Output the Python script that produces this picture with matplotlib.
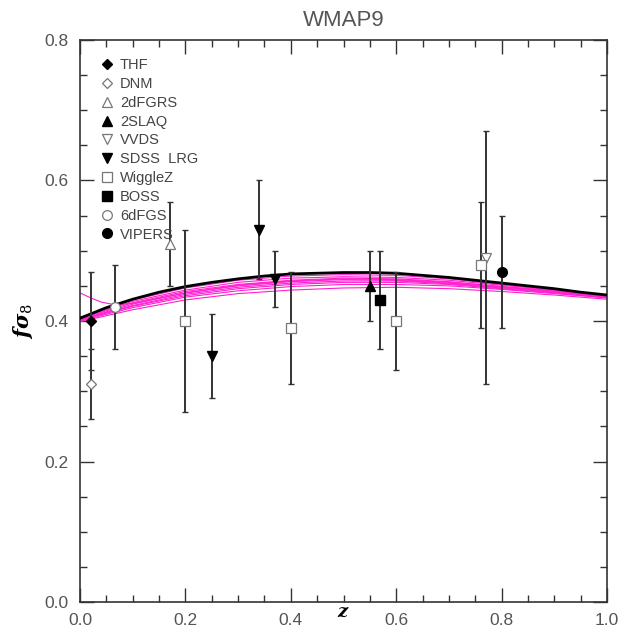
import matplotlib.pyplot as plt
from matplotlib.ticker import MultipleLocator

# growth-rate compilation, fsigma8(z)
surveys = ['THF', 'DNM', '2dFGRS', '2SLAQ', 'VVDS', 'SDSS LRG', 'WiggleZ', 'BOSS', '6dFGS', 'VIPERS']
labels = ['THF', 'DNM', '2dFGRS', '2SLAQ', 'VVDS', 'SDSS  LRG', 'WiggleZ', 'BOSS', '6dFGS', 'VIPERS']
z_data = {
    'THF': [0.02], 'DNM': [0.02], '2dFGRS': [0.17], '2SLAQ': [0.55], 'VVDS': [0.77],
    'SDSS LRG': [0.25, 0.34, 0.37], 'WiggleZ': [0.20, 0.40, 0.60, 0.76],
    'BOSS': [0.57], '6dFGS': [0.067], 'VIPERS': [0.80],
}
fs8_data = {
    'THF': [0.40], 'DNM': [0.31], '2dFGRS': [0.51], '2SLAQ': [0.45], 'VVDS': [0.49],
    'SDSS LRG': [0.35, 0.53, 0.46], 'WiggleZ': [0.40, 0.39, 0.40, 0.48],
    'BOSS': [0.43], '6dFGS': [0.42], 'VIPERS': [0.47],
}
err_data = {
    'THF': [0.07], 'DNM': [0.05], '2dFGRS': [0.06], '2SLAQ': [0.05], 'VVDS': [0.18],
    'SDSS LRG': [0.06, 0.07, 0.04], 'WiggleZ': [0.13, 0.08, 0.07, 0.09],
    'BOSS': [0.07], '6dFGS': [0.06], 'VIPERS': [0.08],
}
# marker, filled?
styles = {
    'THF': ('D', True), 'DNM': ('D', False), '2dFGRS': ('^', False), '2SLAQ': ('^', True),
    'VVDS': ('v', False), 'SDSS LRG': ('v', True), 'WiggleZ': ('s', False),
    'BOSS': ('s', True), '6dFGS': ('o', False), 'VIPERS': ('o', True),
}
sizes = {'D': 5.0, '^': 6.5, 'v': 6.5, 's': 6.5, 'o': 7.0}

# WMAP9 prediction (black) and sampled models (magenta)
z_black = [0.0, 0.05, 0.1, 0.15, 0.2, 0.25, 0.3, 0.35, 0.4, 0.45, 0.5,
           0.55, 0.6, 0.65, 0.7, 0.75, 0.8, 0.85, 0.9, 0.95, 1.0]
fs8_black = [0.404, 0.419, 0.431, 0.441, 0.449, 0.455, 0.460, 0.464, 0.467, 0.468, 0.469,
             0.469, 0.468, 0.465, 0.462, 0.458, 0.454, 0.450, 0.446, 0.441, 0.437]

z_mag = [0.0, 0.1, 0.2, 0.3, 0.4, 0.5, 0.6, 0.7, 0.8, 0.9, 1.0]
fs8_mag = [
    [0.405, 0.430, 0.447, 0.458, 0.464, 0.466, 0.465, 0.460, 0.452, 0.445, 0.437],
    [0.404, 0.428, 0.444, 0.455, 0.461, 0.463, 0.462, 0.458, 0.451, 0.444, 0.436],
    [0.403, 0.426, 0.442, 0.452, 0.458, 0.461, 0.460, 0.456, 0.449, 0.443, 0.435],
    [0.402, 0.424, 0.440, 0.450, 0.456, 0.459, 0.458, 0.454, 0.448, 0.442, 0.435],
    [0.402, 0.422, 0.438, 0.448, 0.454, 0.457, 0.457, 0.453, 0.447, 0.441, 0.434],
    [0.401, 0.421, 0.436, 0.446, 0.452, 0.455, 0.455, 0.452, 0.446, 0.440, 0.433],
    [0.400, 0.419, 0.434, 0.443, 0.449, 0.452, 0.452, 0.450, 0.445, 0.439, 0.433],
    [0.399, 0.416, 0.430, 0.439, 0.444, 0.447, 0.448, 0.446, 0.442, 0.437, 0.431],
]
z_odd = [0.0, 0.02, 0.04, 0.06, 0.08, 0.1, 0.2, 0.3, 0.4, 0.5, 0.6, 0.7, 0.8, 0.9, 1.0]
fs8_odd = [0.440, 0.433, 0.427, 0.424, 0.424, 0.425, 0.440, 0.451, 0.457, 0.460, 0.459,
           0.455, 0.449, 0.443, 0.435]

plt.rcParams['font.family'] = 'Liberation Sans'
plt.rcParams['mathtext.fontset'] = 'dejavuserif'
fig = plt.figure(figsize=(6.24, 6.36), dpi=100)
ax = fig.add_axes([80 / 624, 34 / 636, 527 / 624, 562 / 636])

magenta = '#ff1fcf'
for m in fs8_mag:
    ax.plot(z_mag, m, color=magenta, lw=0.8, zorder=2)
ax.plot(z_odd, fs8_odd, color=magenta, lw=0.8, zorder=2)
ax.plot(z_black, fs8_black, color='black', lw=2.0, zorder=3)

for s, lab in zip(surveys, labels):
    mk, filled = styles[s]
    ax.errorbar(z_data[s], fs8_data[s], yerr=err_data[s], fmt='none', ecolor='#333333',
                elinewidth=1.4, capsize=2.2, capthick=1.0, zorder=4)
    ms = sizes[mk]
    if filled:
        ax.plot(z_data[s], fs8_data[s], mk, color='black', ms=ms, zorder=5, label=lab,
                linestyle='none')
    else:
        ax.plot(z_data[s], fs8_data[s], mk, mfc='white', mec='#777777', mew=0.9, ms=ms,
                zorder=5, label=lab, linestyle='none')

leg = ax.legend(loc='upper left', frameon=False, fontsize=10.5, handlelength=0.8,
                handletextpad=0.45, labelspacing=0.33, borderaxespad=0.0,
                bbox_to_anchor=(0.03, 0.978), markerscale=1.0)
for t in leg.get_texts():
    t.set_color('#444444')

ax.set_xlim(0, 1)
ax.set_ylim(0, 0.8)
ax.xaxis.set_major_locator(MultipleLocator(0.2))
ax.xaxis.set_minor_locator(MultipleLocator(0.05))
ax.yaxis.set_major_locator(MultipleLocator(0.2))
ax.yaxis.set_minor_locator(MultipleLocator(0.05))
ax.tick_params(which='both', direction='in', top=True, right=True, colors='#333333',
               labelcolor='#555555', labelsize=12.5)
ax.tick_params(which='major', length=10, width=1.0, pad=8)
ax.tick_params(which='minor', length=5, width=1.0)
ax.xaxis.set_major_formatter(plt.FormatStrFormatter('%.1f'))
ax.yaxis.set_major_formatter(plt.FormatStrFormatter('%.1f'))
for sp in ax.spines.values():
    sp.set_color('#333333')
    sp.set_linewidth(1.2)

ax.set_title('WMAP9', fontsize=16, color='#555555', pad=10)
ax.text(0.5, -0.004, r'$\boldsymbol{z}$', transform=ax.transAxes, ha='center', va='top',
        fontsize=13)
ax.text(-0.108, 0.5, r'$\boldsymbol{f\sigma}_\mathrm{8}$', transform=ax.transAxes,
        ha='center', va='center', rotation=90, fontsize=15)

fig.savefig('out.png', dpi=100)
